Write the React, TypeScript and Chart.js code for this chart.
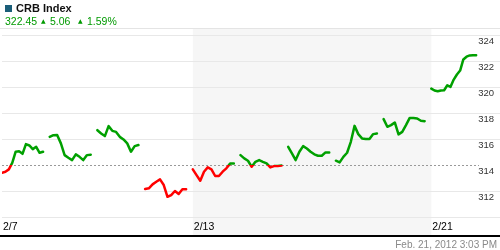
import React, { useEffect, useRef } from "react";
import { Chart, registerables } from "chart.js";

Chart.register(...registerables);

// ---- data ----
const dayLabels = ["2/7", "2/8", "2/9", "2/10", "2/13", "2/14", "2/15", "2/16", "2/17", "2/21"];

const d0207 = [313.45, 313.53, 313.71, 314.21, 315.06, 315.09, 314.9, 315.64, 315.54, 315.26, 315.44, 314.98, 315.06];
const d0208 = [316.2, 316.33, 316.35, 315.7, 314.8, 314.6, 314.42, 314.86, 314.67, 314.42, 314.8, 314.83];
const d0209 = [316.71, 316.46, 316.26, 317.02, 316.66, 316.58, 316.2, 316.0, 315.7, 315.06, 315.49, 315.57];
const d0210 = [312.2, 312.26, 312.56, 312.76, 312.94, 312.51, 311.61, 311.74, 312.05, 311.82, 312.18, 312.18];
const d0213 = [313.71, 313.27, 312.84, 313.53, 313.86, 313.71, 313.2, 313.2, 313.53, 313.79, 314.15, 314.15];
const d0214 = [314.8, 314.55, 314.37, 313.91, 314.29, 314.42, 314.29, 314.17, 313.86, 313.96, 313.96, 314.0];
const d0215 = [315.44, 314.93, 314.42, 315.06, 315.49, 315.31, 315.06, 314.86, 314.75, 314.75, 315.01, 315.01];
const d0216 = [314.37, 314.24, 314.67, 314.98, 315.82, 317.04, 316.41, 316.08, 316.03, 316.03, 316.41, 316.46];
const d0217 = [317.56, 316.97, 317.1, 317.3, 316.39, 316.58, 317.1, 317.65, 317.65, 317.61, 317.43, 317.4];
const d0221 = [319.9, 319.75, 319.69, 319.75, 319.77, 320.15, 320.03, 320.59, 320.98, 321.28, 322.13, 322.34, 322.44, 322.46, 322.45];

const dayValues = [d0207, d0208, d0209, d0210, d0213, d0214, d0215, d0216, d0217, d0221];

const xTickLabels = ["2/7", "2/13", "2/21"];
const yGridValues = [310, 312, 314, 316, 318, 320, 322, 324];
const yLabelValues = [312, 314, 316, 318, 320, 322, 324];
const baselineValue = 314.08;
const shadedFrom = "2/13";
const shadedTo = "2/21";

const title = "CRB Index";
const lastPrice = "322.45";
const change = "5.06";
const changePct = "1.59%";
const timestamp = "Feb. 21, 2012 3:03 PM";

// ---- style ----
const GREEN = "#00a000";
const RED = "#ff0000";
const SESSION_SPAN = 0.86;
const LAST_SESSION_SPAN = 0.94;
const X_MAX = 10.44;
const Y_MIN = 308.68;
const Y_MAX = 324.54;

function buildPoints() {
  const pts: { x: number; y: number | null }[] = [];
  dayValues.forEach((vals, d) => {
    const span = d === dayValues.length - 1 ? LAST_SESSION_SPAN : SESSION_SPAN;
    vals.forEach((v, i) => pts.push({ x: d + (span * i) / (vals.length - 1), y: v }));
    pts.push({ x: d + 0.97, y: null });
  });
  return pts;
}

const decor = {
  id: "decor",
  beforeDraw(chart: any) {
    const { ctx, chartArea: a, scales } = chart;
    const x = scales.x;
    ctx.save();
    const x0 = x.getPixelForValue(dayLabels.indexOf(shadedFrom));
    const x1 = x.getPixelForValue(dayLabels.indexOf(shadedTo));
    ctx.fillStyle = "#f6f6f6";
    ctx.fillRect(x0, a.top, x1 - x0, a.bottom - a.top);
    ctx.fillStyle = "#e4e4e4";
    ctx.fillRect(0, a.top, chart.width, 1);
    ctx.restore();
  },
  beforeDatasetsDraw(chart: any) {
    const { ctx, chartArea: a, scales } = chart;
    const yb = Math.round(scales.y.getPixelForValue(baselineValue)) + 0.5;
    const xe = scales.x.getPixelForValue(dayLabels.length);
    ctx.save();
    ctx.strokeStyle = "#999999";
    ctx.lineWidth = 1;
    ctx.setLineDash([2, 2]);
    ctx.beginPath();
    ctx.moveTo(a.left, yb);
    ctx.lineTo(xe, yb);
    ctx.stroke();
    ctx.restore();
  },
  afterDraw(chart: any) {
    const { ctx, chartArea: a } = chart;
    ctx.save();
    ctx.fillStyle = "#000";
    ctx.fillRect(0, a.bottom, chart.width, 2);
    ctx.restore();
  },
};

export default function App() {
  const ref = useRef<HTMLCanvasElement | null>(null);

  useEffect(() => {
    if (!ref.current) return;
    const chart = new Chart(ref.current, {
      type: "line",
      data: {
        datasets: [
          {
            data: buildPoints() as any,
            borderWidth: 2.5,
            pointRadius: 0,
            tension: 0,
            spanGaps: false,
            borderJoinStyle: "round",
            borderCapStyle: "round",
            borderColor: (c: any) => {
              const ch = c.chart;
              const a = ch.chartArea;
              if (!a) return GREEN;
              const yb = ch.scales.y.getPixelForValue(baselineValue);
              const f = Math.min(1, Math.max(0, (yb - a.top) / (a.bottom - a.top)));
              const g = ch.ctx.createLinearGradient(0, a.top, 0, a.bottom);
              g.addColorStop(0, GREEN);
              g.addColorStop(f, GREEN);
              g.addColorStop(f, RED);
              g.addColorStop(1, RED);
              return g;
            },
          },
        ],
      },
      options: {
        responsive: false,
        devicePixelRatio: 1,
        animation: false,
        layout: { padding: { top: 28, bottom: 15, left: 0, right: 0 } },
        plugins: { legend: { display: false }, tooltip: { enabled: false } },
        scales: {
          x: {
            type: "linear",
            min: 0,
            max: X_MAX,
            grid: { display: false, drawTicks: false },
            border: { display: false },
            afterFit: (s: any) => {
              s.height = 0;
            },
            afterBuildTicks: (s: any) => {
              s.ticks = xTickLabels.map((l) => ({ value: dayLabels.indexOf(l) }));
            },
            ticks: {
              mirror: true,
              autoSkip: false,
              maxRotation: 0,
              align: "start",
              padding: 2,
              labelOffset: 1,
              color: "#000",
              font: { family: "'Liberation Sans', Arial, sans-serif", size: 10.5 },
              callback: (v: any) => dayLabels[v as number] ?? "",
            },
          },
          y: {
            position: "right",
            min: Y_MIN,
            max: Y_MAX,
            grid: {
              drawTicks: false,
              lineWidth: 1,
              color: (c: any) => (c.tick && c.tick.value === 314 ? "rgba(0,0,0,0)" : "#e8e8e8"),
            },
            border: { display: false },
            afterFit: (s: any) => {
              s.width = 0;
            },
            afterBuildTicks: (s: any) => {
              s.ticks = yGridValues.map((v) => ({ value: v }));
            },
            ticks: {
              mirror: true,
              padding: -6,
              labelOffset: 6,
              color: "#333",
              font: { family: "'Liberation Sans', Arial, sans-serif", size: 9.5 },
              callback: (v: any) => (yLabelValues.includes(v) ? String(v) : ""),
            },
          },
        },
      },
      plugins: [decor],
    });
    return () => chart.destroy();
  }, []);

  const font = "'Liberation Sans', Arial, sans-serif";
  const green = { position: "absolute" as const, color: "#009a00", fontFamily: font, fontSize: 10.5, lineHeight: "12px", top: 15, whiteSpace: "nowrap" as const };
  const tri = { position: "absolute" as const, color: "#009a00", fontFamily: "'DejaVu Sans', sans-serif", fontSize: 6, lineHeight: "6px", top: 17.5 };

  return (
    <div style={{ position: "absolute", left: 0, top: 0, width: 500, height: 250, background: "#fff", overflow: "hidden" }}>
      <canvas ref={ref} width={500} height={250} style={{ display: "block", position: "absolute", left: 0, top: 0 }} />
      <div style={{ position: "absolute", left: 5, top: 5, width: 7, height: 7, background: "#1b5e79" }} />
      <div style={{ position: "absolute", left: 16, top: 2, fontFamily: font, fontWeight: "bold", fontSize: 11, lineHeight: "12px", color: "#111", whiteSpace: "nowrap" }}>{title}</div>
      <span style={{ ...green, left: 5 }}>{lastPrice}</span>
      <span style={{ ...tri, left: 41 }}>▲</span>
      <span style={{ ...green, left: 50 }}>{change}</span>
      <span style={{ ...tri, left: 78 }}>▲</span>
      <span style={{ ...green, left: 87 }}>{changePct}</span>
      <div style={{ position: "absolute", right: 3, top: 239, fontFamily: font, fontSize: 10, lineHeight: "12px", color: "#8a8a8a", whiteSpace: "nowrap" }}>{timestamp}</div>
    </div>
  );
}
